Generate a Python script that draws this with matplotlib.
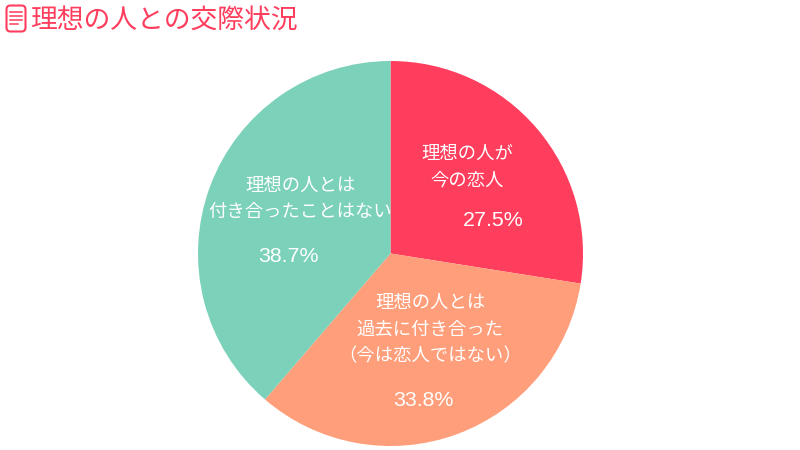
import matplotlib
matplotlib.use('Agg')
import matplotlib.pyplot as plt
from matplotlib.patches import FancyBboxPatch

plt.rcParams['font.family'] = ['Noto Sans CJK JP', 'DejaVu Sans']

title = '理想の人との交際状況'
labels = ['理想の人が\n今の恋人', '理想の人とは\n過去に付き合った\n（今は恋人ではない）', '理想の人とは\n付き合ったことはない']
values = [27.5, 33.8, 38.7]
colors = ['#ff3d5c', '#ff9e7a', '#7bd1b9']
label_pos = [(467, 167), (430, 329.5), (300, 199)]
pct_pos = [(493, 220.5), (423, 400.5), (288, 256.5)]

W, H = 800, 450
fig = plt.figure(figsize=(8, 4.5), dpi=100)
ax = fig.add_axes([0, 0, 1, 1])
ax.set_xlim(0, W)
ax.set_ylim(H, 0)
ax.axis('off')

# 円グラフ
pie_ax = fig.add_axes([198 / W, 1 - 446 / H, 385 / W, 385 / H])
pie_ax.pie(values, colors=colors, startangle=90, counterclock=False, radius=1.0)
pie_ax.set_xlim(-1, 1)
pie_ax.set_ylim(-1, 1)

for lab, p in zip(labels, label_pos):
    fig.text(p[0] / W, 1 - p[1] / H, lab, color='white', fontsize=13.2, ha='center', va='center',
             linespacing=1.6)
for v, p in zip(values, pct_pos):
    fig.text(p[0] / W, 1 - p[1] / H, f'{v}%', color='white', fontsize=15.4, ha='center', va='center',
             family=['Liberation Sans'])

# タイトル
fig.text(30 / W, 1 - 20.5 / H, title, color='#ff3d5c', fontsize=19.3, ha='left', va='center')

# アイコン
ax.add_patch(FancyBboxPatch((6.5, 5.5), 19, 26, boxstyle='round,pad=0,rounding_size=4', fc='none', ec='#ff3d5c', lw=1.5))
for y, x1 in zip([12, 16, 20, 24], [22, 22, 22, 18]):
    ax.plot([10, x1], [y, y], color='#ff3d5c', lw=1.1)

fig.savefig('out.png', dpi=100)
